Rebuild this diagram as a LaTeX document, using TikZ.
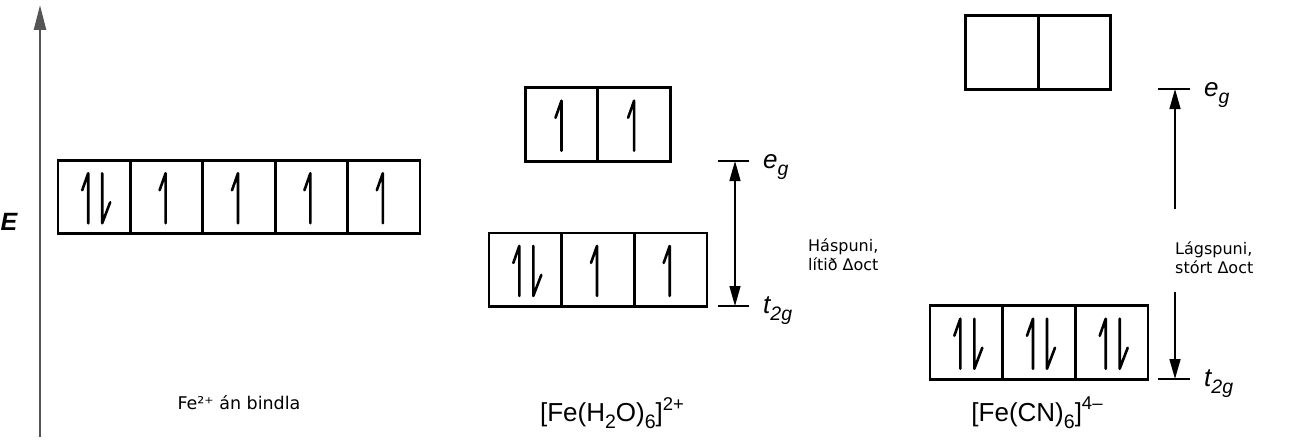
\documentclass[tikz,border=0pt]{standalone}
\usepackage{fontspec}
\setmainfont{Liberation Sans}
\newfontfamily\dejavu{DejaVu Sans}
\usetikzlibrary{arrows.meta}
\definecolor{axisgray}{HTML}{555555}
\tikzset{px/.style={x=1pt,y=-1pt},
  orb/.style={draw,line width=2.6pt,minimum width=72.5pt,minimum height=73.5pt,inner sep=0pt,outer sep=0pt},
  spin/.style={line width=2.6pt,line cap=round,line join=round},
  lvl/.style={line width=2pt},
  gap/.style={line width=1.4pt,-{Triangle[length=20pt,width=11pt]}},
  gap2/.style={line width=1.4pt,{Triangle[length=20pt,width=11pt]}-{Triangle[length=20pt,width=11pt]}},
  note/.style={font=\dejavu\fontsize{16}{18.6}\selectfont,align=left,anchor=west,inner sep=0pt},
  form/.style={font=\fontsize{26}{30}\selectfont},
  sym/.style={font=\itshape\fontsize{26}{30}\selectfont,anchor=base west,inner sep=0pt}}
% half arrows inside a box: #1 box, #2 shift from the middle
\newcommand\spinup[2]{\draw[spin] ([xshift=#2pt]#1.north) ++(-6,30) -- ++(6,-17) -- ++(0,50);}
\newcommand\spindn[2]{\draw[spin] ([xshift=#2pt]#1.north) ++(0,13) -- ++(0,50) -- ++(8,-21);}
% lowered / raised small text
\newcommand\lo[1]{\raisebox{-.27em}{\fontsize{19.5}{20}\selectfont #1}}
\newcommand\hi[1]{\raisebox{.45em}{\fontsize{18.5}{20}\selectfont #1}}

\begin{document}
\begin{tikzpicture}[px]
  \useasboundingbox (0,0) rectangle (1300,444);
  % energy axis
  \coordinate (ax0) at (40,437);
  \coordinate (ax1) at (40,5);
  \draw[axisgray,line width=2.5pt,-{Triangle[length=25pt,width=12pt]}] (ax0) -- (ax1);
  \node[font=\bfseries\itshape\fontsize{25}{28}\selectfont] (elab) at (9,222) {E};

  % free ion
  \foreach \i in {0,...,4}{\node[orb] (fe\i) at (94.2+72.4*\i,197) {};}
  \spinup{fe0}{-6} \spindn{fe0}{8}
  \foreach \i in {1,...,4}{\spinup{fe\i}{-1}}
  \node[note,anchor=center,font=\dejavu\fontsize{17.5}{20}\selectfont] (felab) at (239,403) {Fe²⁺ án bindla};

  % high spin
  \foreach \i in {0,1}{\node[orb] (hsE\i) at (561.5+72.6*\i,124.5) {};}
  \foreach \i in {0,1,2}{\node[orb] (hsT\i) at (525.3+72.7*\i,269.7) {};}
  \spinup{hsE0}{0} \spinup{hsE1}{0}
  \spinup{hsT0}{-6} \spindn{hsT0}{8}
  \spinup{hsT1}{-1} \spinup{hsT2}{-1}
  \coordinate (hsHi) at (735,161);
  \coordinate (hsLo) at (735,306);
  \draw[lvl] ([xshift=-17pt]hsHi) -- ([xshift=14pt]hsHi);
  \draw[lvl] ([xshift=-17pt]hsLo) -- ([xshift=14pt]hsLo);
  \draw[gap2] (hsHi) -- (hsLo);
  \node[sym] (hsEg) at (763,168) {e\lo{g}};
  \node[sym] (hsTg) at (763,313) {t\lo{2g}};
  \node[note] (hsnote) at (808,255) {Háspuni,\\lítið Δoct};
  \node[form] (hslab) at (612,413) {[Fe(H\lo{2}O)\lo{6}]\hi{2+}};

  % low spin
  \foreach \i in {0,1}{\node[orb] (lsE\i) at (1002+72.5*\i,52.5) {};}
  \foreach \i in {0,1,2}{\node[orb] (lsT\i) at (966.3+72.7*\i,342.5) {};}
  \foreach \i in {0,1,2}{\spinup{lsT\i}{-6} \spindn{lsT\i}{8}}
  \coordinate (lsHi) at (1175,89);
  \coordinate (lsLo) at (1175,379);
  \coordinate (lsM1) at (1175,209);
  \coordinate (lsM2) at (1175,292);
  \draw[lvl] ([xshift=-17pt]lsHi) -- ([xshift=15pt]lsHi);
  \draw[lvl] ([xshift=-17pt]lsLo) -- ([xshift=15pt]lsLo);
  \draw[gap] (lsM1) -- (lsHi);
  \draw[gap] (lsM2) -- (lsLo);
  \node[sym] (lsEg) at (1204,96) {e\lo{g}};
  \node[sym] (lsTg) at (1204,386) {t\lo{2g}};
  \node[note] (lsnote) at (1175,258) {Lágspuni,\\stórt Δoct};
  \node[form] (lslab) at (1037,413) {[Fe(CN)\lo{6}]\hi{4–}};
\end{tikzpicture}
\end{document}
